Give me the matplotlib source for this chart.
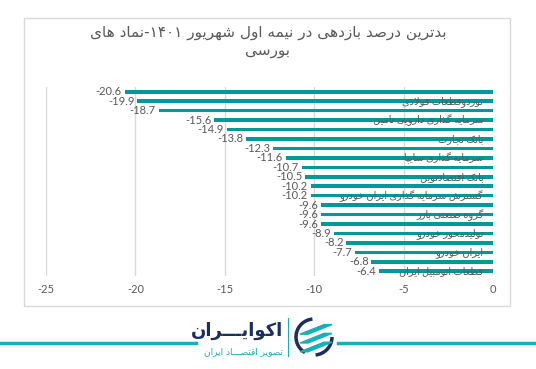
import matplotlib
matplotlib.use("Agg")
import matplotlib.pyplot as plt
from matplotlib.patches import Rectangle, Arc, Polygon
from matplotlib.lines import Line2D

# --- داده ها ---
values = [-20.6, -19.9, -18.7, -15.6, -14.9, -13.8, -12.3, -11.6, -10.7, -10.5,
          -10.2, -10.2, -9.6, -9.6, -9.6, -8.9, -8.2, -7.7, -6.8, -6.4]
# فقط یک در میان برچسب دارد (مثل اکسل)
names = ["", "نوردوقطعات فولادی", "", "سرمایه گذاری دارویی تامین", "", "بانک تجارت",
         "", "سرمایه گذاری سایپا", "", "بانک اقتصادنوین", "",
         "گسترش سرمایه گذاری ایران خودرو", "", "گروه صنعتی بارز", "",
         "تولیدمحور خودرو", "", "ایران خودرو", "", "قطعات اتومبیل ایران"]
xticks = [-25, -20, -15, -10, -5, 0]
title_lines = ["بدترین درصد بازدهی در نیمه اول شهریور ۱۴۰۱-نماد های", "بورسی"]

# --- شکل دهی ساده حروف فارسی (matplotlib خودش این کار را نمی کند) ---
FORMS = {
    "ا": (0xFE8D, 0xFE8E), "آ": (0xFE81, 0xFE82), "د": (0xFEA9, 0xFEAA),
    "ذ": (0xFEAB, 0xFEAC), "ر": (0xFEAD, 0xFEAE), "ز": (0xFEAF, 0xFEB0),
    "ژ": (0xFB8A, 0xFB8B), "و": (0xFEED, 0xFEEE),
    "ب": (0xFE8F, 0xFE90, 0xFE91, 0xFE92), "پ": (0xFB56, 0xFB57, 0xFB58, 0xFB59),
    "ت": (0xFE95, 0xFE96, 0xFE97, 0xFE98), "ث": (0xFE99, 0xFE9A, 0xFE9B, 0xFE9C),
    "ج": (0xFE9D, 0xFE9E, 0xFE9F, 0xFEA0), "چ": (0xFB7A, 0xFB7B, 0xFB7C, 0xFB7D),
    "ح": (0xFEA1, 0xFEA2, 0xFEA3, 0xFEA4), "خ": (0xFEA5, 0xFEA6, 0xFEA7, 0xFEA8),
    "س": (0xFEB1, 0xFEB2, 0xFEB3, 0xFEB4), "ش": (0xFEB5, 0xFEB6, 0xFEB7, 0xFEB8),
    "ص": (0xFEB9, 0xFEBA, 0xFEBB, 0xFEBC), "ض": (0xFEBD, 0xFEBE, 0xFEBF, 0xFEC0),
    "ط": (0xFEC1, 0xFEC2, 0xFEC3, 0xFEC4), "ظ": (0xFEC5, 0xFEC6, 0xFEC7, 0xFEC8),
    "ع": (0xFEC9, 0xFECA, 0xFECB, 0xFECC), "غ": (0xFECD, 0xFECE, 0xFECF, 0xFED0),
    "ف": (0xFED1, 0xFED2, 0xFED3, 0xFED4), "ق": (0xFED5, 0xFED6, 0xFED7, 0xFED8),
    "ک": (0xFB8E, 0xFB8F, 0xFB90, 0xFB91), "گ": (0xFB92, 0xFB93, 0xFB94, 0xFB95),
    "ل": (0xFEDD, 0xFEDE, 0xFEDF, 0xFEE0), "م": (0xFEE1, 0xFEE2, 0xFEE3, 0xFEE4),
    "ن": (0xFEE5, 0xFEE6, 0xFEE7, 0xFEE8), "ه": (0xFEE9, 0xFEEA, 0xFEEB, 0xFEEC),
    "ی": (0xFBFC, 0xFBFD, 0xFBFE, 0xFBFF), "ـ": (0x0640, 0x0640, 0x0640, 0x0640),
}
DIGITS = set("0123456789۰۱۲۳۴۵۶۷۸۹")


def fa(text):
    out = []
    i = 0
    n = len(text)
    while i < n:
        c = text[i]
        if c not in FORMS:
            out.append(c)
            i += 1
            continue
        prev = text[i - 1] if i > 0 else ""
        joins_prev = prev in FORMS and len(FORMS[prev]) == 4
        # لا
        if c == "ل" and i + 1 < n and text[i + 1] in "اآ":
            if text[i + 1] == "ا":
                out.append(chr(0xFEFC if joins_prev else 0xFEFB))
            else:
                out.append(chr(0xFEF6 if joins_prev else 0xFEF5))
            i += 2
            continue
        nxt = text[i + 1] if i + 1 < n else ""
        f = FORMS[c]
        joins_next = len(f) == 4 and nxt in FORMS
        if joins_prev and joins_next:
            out.append(chr(f[3]))
        elif joins_prev:
            out.append(chr(f[1]))
        elif joins_next:
            out.append(chr(f[2]))
        else:
            out.append(chr(f[0]))
        i += 1
    # ترتیب نمایش: برعکس، ولی اعداد چپ به راست بمانند
    s = "".join(out)[::-1]
    res, run = [], []
    for ch in s:
        if ch in DIGITS or (run and ch == "."):
            run.append(ch)
        else:
            if run:
                res.extend(run[::-1])
                run = []
            res.append(ch)
    res.extend(run[::-1])
    return "".join(res)


plt.rcParams["font.family"] = ["Lato", "DejaVu Sans"]
grey = "#595959"
teal = "#009999"

fig = plt.figure(figsize=(5.36, 3.69), dpi=100)

# کادر نمودار
fig.patches.append(Rectangle((24 / 536, 1 - 306 / 369), 486 / 536, 288 / 369,
                             transform=fig.transFigure, fill=False,
                             edgecolor="#d9d9d9", linewidth=1.0))

ax = fig.add_axes([46 / 536, 1 - 276 / 369, 447 / 536, 189 / 369])
pos = list(range(len(values)))
ax.barh(pos, values, height=0.38, color=teal, zorder=2)
ax.set_ylim(len(values) - 0.5, -0.5)
ax.set_xlim(-25, 0)
ax.set_xticks(xticks)
ax.set_xticklabels([str(t) for t in xticks])
ax.set_yticks([])
ax.grid(axis="x", color="#d9d9d9", linewidth=1.0, zorder=0)
for s in ax.spines.values():
    s.set_visible(False)
ax.tick_params(axis="x", length=0, labelsize=8, labelcolor=grey, pad=6)

for i, v in enumerate(values):
    ax.annotate(f"{v}", (v, i), xytext=(-2, 0), textcoords="offset points",
                ha="right", va="center", fontsize=8, color=grey)
    if names[i]:
        ax.annotate(fa(names[i]), (0, i), xytext=(-7, 0), textcoords="offset points",
                    ha="right", va="center", fontsize=7, color=grey, zorder=3)

# عنوان
fig.text(0.5, 1 - 33 / 369, fa(title_lines[0]), ha="center", va="center",
         fontsize=11, color=grey, family="DejaVu Sans")
fig.text(0.5, 1 - 51 / 369, fa(title_lines[1]), ha="center", va="center",
         fontsize=11, color=grey, family="DejaVu Sans")

# لوگو
line_teal = "#14b1b7"
navy = "#1b2f5e"
fig.add_artist(Line2D([0, 196 / 536], [1 - 343 / 369] * 2, color=line_teal, lw=2.5))
fig.add_artist(Line2D([338 / 536, 1], [1 - 343 / 369] * 2, color=line_teal, lw=2.5))
fig.text(283 / 536, 1 - 331 / 369, fa("اکوایـــران"), ha="right", va="center",
         fontsize=13, fontweight="bold", color=navy, family="DejaVu Sans")
fig.text(283 / 536, 1 - 352 / 369, fa("تصویر اقتصـــاد ایران"), ha="right", va="center",
         fontsize=6.5, color=line_teal, family="DejaVu Sans")
fig.add_artist(Line2D([288 / 536] * 2, [1 - 318 / 369, 1 - 356 / 369], color=line_teal, lw=0.8))

lax = fig.add_axes([294 / 536, 1 - 357 / 369, 40 / 536, 40 / 369])
lax.set_xlim(0, 1)
lax.set_ylim(0, 1)
lax.axis("off")
lax.add_patch(Arc((0.5, 0.5), 0.9, 0.9, theta1=95, theta2=240, color=navy, lw=2.5))
lax.add_patch(Arc((0.5, 0.5), 0.9, 0.9, theta1=275, theta2=360, color=navy, lw=2.5))
for k in range(3):
    y0 = 0.25 + k * 0.22
    lax.add_patch(Polygon([(0.15, y0 - 0.12), (0.35, y0 - 0.12), (0.95, y0 + 0.12), (0.75, y0 + 0.12)],
                          closed=True, color=line_teal))

fig.savefig("out.png", dpi=100)
